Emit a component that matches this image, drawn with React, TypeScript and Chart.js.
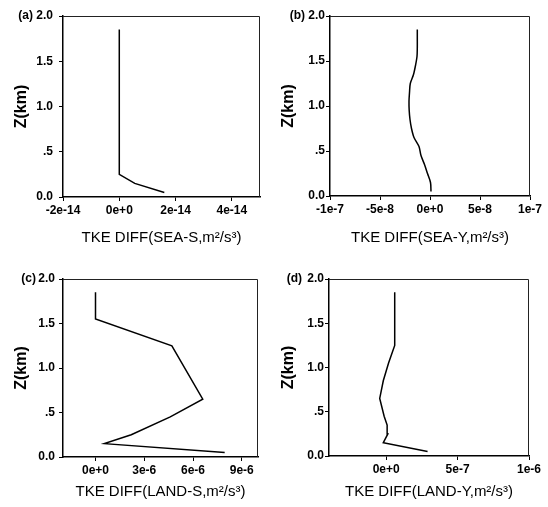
import React, { useEffect, useRef } from "react";
import { Chart, registerables } from "chart.js";

Chart.register(...registerables);

const FONT = "'Liberation Sans', Arial, Helvetica, sans-serif";

// Shared height axis
const heightTicks = [0, 0.5, 1.0, 1.5, 2.0];
const heightTickLabels = ["0.0", ".5", "1.0", "1.5", "2.0"];
const heightTitle = "Z(km)";

// (a) SEA-S
const zSeaS = [0.05, 0.15, 0.25, 0.45, 0.65, 0.85, 1.05, 1.25, 1.55, 1.85];
const tkeSeaS = [1.6e-14, 0.55e-14, 0, 0, 0, 0, 0, 0, 0, 0];
const xTicksSeaS = [-2e-14, 0, 2e-14, 4e-14];
const xLabelsSeaS = ["-2e-14", "0e+0", "2e-14", "4e-14"];

// (b) SEA-Y
const zSeaY = [0.05, 0.15, 0.25, 0.35, 0.45, 0.55, 0.65, 0.75, 0.85, 0.95, 1.05, 1.15, 1.25, 1.35, 1.45, 1.55, 1.65, 1.75, 1.85];
const tkeSeaY = [0.1e-8, 0.05e-8, -0.25e-8, -0.55e-8, -0.9e-8, -1.1e-8, -1.6e-8, -1.85e-8, -2.0e-8, -2.08e-8, -2.1e-8, -2.05e-8, -1.97e-8, -1.65e-8, -1.45e-8, -1.3e-8, -1.27e-8, -1.27e-8, -1.27e-8];
const xTicksSeaY = [-1e-7, -5e-8, 0, 5e-8, 1e-7];
const xLabelsSeaY = ["-1e-7", "-5e-8", "0e+0", "5e-8", "1e-7"];

// (c) LAND-S
const zLandS = [0.05, 0.15, 0.25, 0.45, 0.65, 1.25, 1.55, 1.85];
const tkeLandS = [7.95e-6, 0.55e-6, 2.2e-6, 4.6e-6, 6.6e-6, 4.7e-6, 0, 0];
const xTicksLandS = [0, 3e-6, 6e-6, 9e-6];
const xLabelsLandS = ["0e+0", "3e-6", "6e-6", "9e-6"];

// (d) LAND-Y
const zLandY = [0.05, 0.15, 0.25, 0.35, 0.45, 0.65, 0.85, 1.05, 1.25, 1.55, 1.85];
const tkeLandY = [2.9e-7, -0.2e-7, 0.12e-7, 0.07e-7, -0.14e-7, -0.45e-7, -0.2e-7, 0.17e-7, 0.6e-7, 0.6e-7, 0.6e-7];
const xTicksLandY = [0, 5e-7, 1e-6];
const xLabelsLandY = ["0e+0", "5e-7", "1e-6"];

type PanelCfg = {
  label: string;
  title: string;
  z: number[];
  vals: number[];
  xTicks: number[];
  xLabels: string[];
  xMin: number;
  xMax: number;
  tension: number;
  pos: [number, number, number, number];
  padTop: number;
  padRight: number;
  yW: number;
  xH: number;
  yTitlePad: number;
  yTickPad: number;
  labelOffset: number;
};

const panels: PanelCfg[] = [
  {
    label: "(a)", title: "TKE DIFF(SEA-S,m²/s³)", z: zSeaS, vals: tkeSeaS,
    xTicks: xTicksSeaS, xLabels: xLabelsSeaS, xMin: -2e-14, xMax: 5e-14, tension: 0,
    pos: [0, 0, 274, 253], padTop: 16, padRight: 14, yW: 63, xH: 56,
    yTitlePad: 12, yTickPad: 6, labelOffset: 30,
  },
  {
    label: "(b)", title: "TKE DIFF(SEA-Y,m²/s³)", z: zSeaY, vals: tkeSeaY,
    xTicks: xTicksSeaY, xLabels: xLabelsSeaY, xMin: -1e-7, xMax: 1e-7, tension: 0.3,
    pos: [274, 0, 274, 253], padTop: 16, padRight: 18, yW: 56, xH: 57,
    yTitlePad: 5, yTickPad: 1, labelOffset: 25,
  },
  {
    label: "(c)", title: "TKE DIFF(LAND-S,m²/s³)", z: zLandS, vals: tkeLandS,
    xTicks: xTicksLandS, xLabels: xLabelsLandS, xMin: -2e-6, xMax: 1e-5, tension: 0,
    pos: [0, 253, 274, 254], padTop: 26, padRight: 16, yW: 63, xH: 50,
    yTitlePad: 12, yTickPad: 4, labelOffset: 27,
  },
  {
    label: "(d)", title: "TKE DIFF(LAND-Y,m²/s³)", z: zLandY, vals: tkeLandY,
    xTicks: xTicksLandY, xLabels: xLabelsLandY, xMin: -4e-7, xMax: 1e-6, tension: 0,
    pos: [274, 253, 274, 254], padTop: 26, padRight: 19, yW: 55, xH: 51,
    yTitlePad: 5, yTickPad: 1, labelOffset: 27,
  },
];

function Panel({ cfg }: { cfg: PanelCfg }) {
  const ref = useRef<HTMLCanvasElement | null>(null);
  useEffect(() => {
    if (!ref.current) return;
    const framePlugin = {
      id: "panelFrame",
      afterDraw(chart: any) {
        const { ctx, chartArea } = chart;
        ctx.save();
        ctx.strokeStyle = "#222";
        ctx.lineWidth = 1;
        ctx.beginPath();
        ctx.moveTo(chartArea.left, chartArea.top + 0.5);
        ctx.lineTo(chartArea.right - 0.5, chartArea.top + 0.5);
        ctx.lineTo(chartArea.right - 0.5, chartArea.bottom);
        ctx.stroke();
        ctx.fillStyle = "#000";
        ctx.font = `bold 12px ${FONT}`;
        ctx.textAlign = "right";
        ctx.textBaseline = "middle";
        ctx.fillText(cfg.label, chartArea.left - cfg.labelOffset, chartArea.top);
        ctx.restore();
      },
    };
    const chart = new Chart(ref.current, {
      type: "scatter",
      data: {
        datasets: [
          {
            data: cfg.z.map((zz, i) => ({ x: cfg.vals[i], y: zz })),
            showLine: true,
            borderColor: "#000",
            backgroundColor: "#000",
            borderWidth: 1.5,
            pointRadius: 0,
            fill: false,
            tension: cfg.tension,
          },
        ],
      },
      options: {
        responsive: false,
        animation: false,
        devicePixelRatio: 1,
        layout: { padding: { top: cfg.padTop, right: cfg.padRight, left: 0, bottom: 0 } },
        plugins: { legend: { display: false }, tooltip: { enabled: false } },
        scales: {
          x: {
            type: "linear",
            position: "bottom",
            min: cfg.xMin,
            max: cfg.xMax,
            afterBuildTicks: (ax: any) => {
              ax.ticks = cfg.xTicks.map((v) => ({ value: v }));
            },
            afterFit: (ax: any) => {
              ax.height = cfg.xH;
              ax.paddingLeft = 0;
              ax.paddingRight = 0;
            },
            grid: { drawOnChartArea: false, drawTicks: true, tickLength: 4, color: "#000", lineWidth: 1 },
            border: { display: true, color: "#000", width: 1.5 },
            ticks: {
              callback: (_v: any, i: number) => cfg.xLabels[i],
              color: "#000",
              font: { size: 12, weight: "bold", family: FONT },
              padding: 2,
              maxRotation: 0,
              autoSkip: false,
            },
            title: {
              display: true,
              text: cfg.title,
              color: "#000",
              font: { size: 15, family: FONT },
              padding: { top: 0, bottom: 6 },
            },
          },
          y: {
            type: "linear",
            position: "left",
            min: 0,
            max: 2,
            afterBuildTicks: (ax: any) => {
              ax.ticks = heightTicks.map((v) => ({ value: v }));
            },
            afterFit: (ax: any) => {
              ax.width = cfg.yW;
              ax.paddingTop = 0;
              ax.paddingBottom = 0;
            },
            grid: { drawOnChartArea: false, drawTicks: true, tickLength: 4, color: "#000", lineWidth: 1 },
            border: { display: true, color: "#000", width: 1.5 },
            ticks: {
              callback: (_v: any, i: number) => heightTickLabels[i],
              color: "#000",
              font: { size: 12, weight: "bold", family: FONT },
              padding: cfg.yTickPad,
              autoSkip: false,
            },
            title: {
              display: true,
              text: heightTitle,
              color: "#000",
              font: { size: 16, weight: "bold", family: FONT },
              padding: { top: cfg.yTitlePad, bottom: 0 },
            },
          },
        },
      },
      plugins: [framePlugin],
    } as any);
    return () => chart.destroy();
  }, [cfg]);
  const [l, t, w, h] = cfg.pos;
  return (
    <canvas
      ref={ref}
      width={w}
      height={h}
      style={{ position: "absolute", left: l, top: t, width: w, height: h }}
    />
  );
}

export default function App() {
  return (
    <div style={{ position: "absolute", left: 0, top: 0, width: 548, height: 507, background: "#fff" }}>
      {panels.map((p) => (
        <Panel key={p.label} cfg={p} />
      ))}
    </div>
  );
}
